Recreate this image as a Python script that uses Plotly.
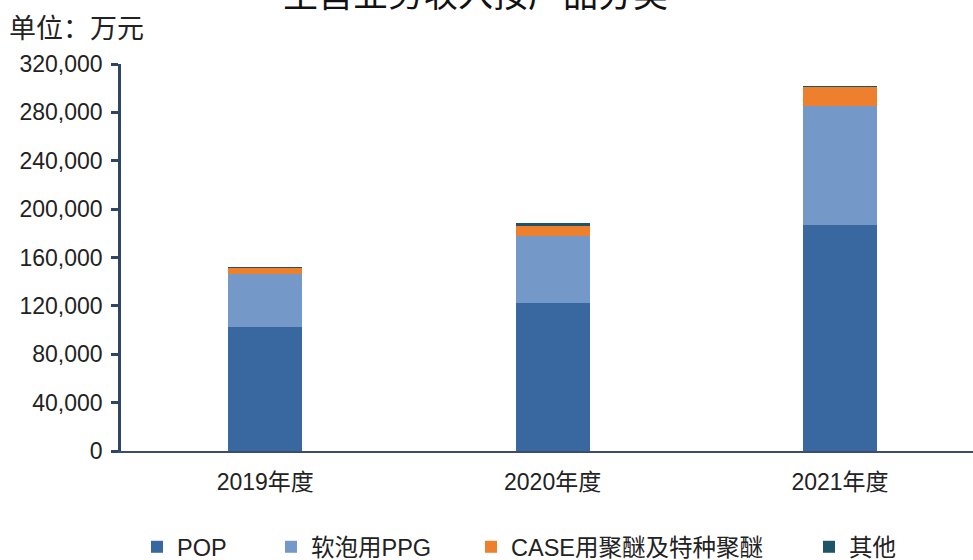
import plotly.graph_objects as go

categories = ["2019年度", "2020年度", "2021年度"]
pop = [102500, 122300, 186800]
ppg = [44000, 55400, 98300]
case = [5000, 8500, 16000]
other = [300, 2000, 300]
series_names = ["POP", "软泡用PPG", "CASE用聚醚及特种聚醚", "其他"]
y_ticks = [0, 40000, 80000, 120000, 160000, 200000, 240000, 280000, 320000]
y_tick_labels = ["0", "40,000", "80,000", "120,000", "160,000", "200,000", "240,000", "280,000", "320,000"]

colors = ["#39679f", "#7499c8", "#ee7f2c", "#1e5468"]
legend_ids = ["legend", "legend2", "legend3", "legend4"]
legend_x_px = [137, 271, 471, 809]
font_fam = "Liberation Sans, Noto Sans CJK SC, sans-serif"

fig = go.Figure()
for name, vals, col, lg in zip(series_names, [pop, ppg, case, other], colors, legend_ids):
    fig.add_trace(go.Bar(
        x=categories, y=vals, name=name, width=0.258, legend=lg,
        marker=dict(color=col, line=dict(width=0)),
    ))

layout_legends = {}
for lg, xp in zip(legend_ids, legend_x_px):
    layout_legends[lg] = dict(orientation="h", xref="container", yref="container",
                              x=xp / 973, xanchor="left", y=1 - 547 / 560, yanchor="middle",
                              font=dict(size=23.5, color="#222222"), itemwidth=30,
                              bgcolor="rgba(0,0,0,0)")

fig.update_layout(
    barmode="stack",
    width=973, height=560,
    margin=dict(l=121, r=0, t=64, b=109, autoexpand=False),
    plot_bgcolor="white", paper_bgcolor="white",
    font=dict(family=font_fam, size=20, color="#222222"),
    showlegend=True,
    xaxis=dict(range=[-0.502, 2.463], showline=True, linecolor="#3a4e6b", linewidth=1.5,
               ticks="", showgrid=False, ticklabelstandoff=10, automargin=False,
               tickfont=dict(size=23)),
    yaxis=dict(range=[0, 320000], tickvals=y_ticks, ticktext=y_tick_labels,
               showline=True, linecolor="#2f4566", linewidth=2.5, ticks="outside",
               ticklen=7, tickwidth=2.5, tickcolor="#2f4566", showgrid=False,
               zeroline=False, automargin=False, ticklabelstandoff=4,
               tickfont=dict(size=23)),
    bargap=0,
    **layout_legends,
)
fig.add_annotation(text="主营业务收入按产品分类", xref="paper", yref="paper",
                   x=(475 - 121) / 852, y=(451 + 8) / 387, xanchor="center", yanchor="middle",
                   showarrow=False, font=dict(size=35, color="#111111",
                                               family="Noto Sans CJK SC, sans-serif"))
fig.add_annotation(text="单位：万元", xref="paper", yref="paper",
                   x=-114 / 852, y=(451 - 27) / 387, xanchor="left", yanchor="middle",
                   showarrow=False, font=dict(size=27, color="#222222",
                                               family="Noto Sans CJK SC, sans-serif"))
fig.write_html("out.html", config={"displayModeBar": False},
               post_script="document.body.style.margin='0';")
